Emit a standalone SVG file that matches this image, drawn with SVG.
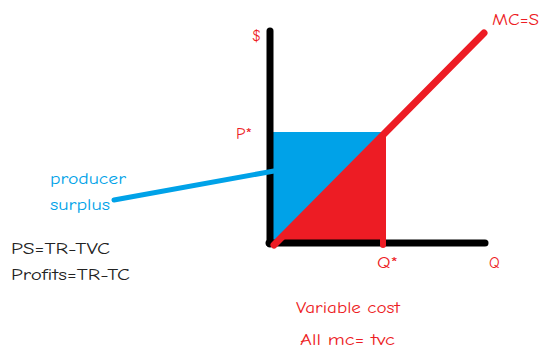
<svg xmlns="http://www.w3.org/2000/svg" width="542" height="350" viewBox="0 0 542 350">
<style>
.t{font-family:"Comic Neue","DejaVu Sans","Liberation Sans",sans-serif;font-size:15px}
.r{fill:#ED1C24}
.b{fill:#00A2E8}
.k{fill:#222}
</style>
<rect width="542" height="350" fill="#fff"/>
<g id="areas">
<rect x="273" y="133" width="108" height="110" fill="#00A2E8"/>
<polygon points="273,243 382,136 385,136 385,240 273,240" fill="#ED1C24"/>
<line x1="272" y1="134.5" x2="382" y2="134.5" stroke="#00A2E8" stroke-width="5" stroke-linecap="round"/>
</g>
<g id="axes" stroke="#000" stroke-width="7" stroke-linecap="round" fill="none">
<line x1="270" y1="31" x2="270" y2="244"/>
<line x1="269" y1="243" x2="485" y2="243"/>
</g>
<g id="curves" fill="none" stroke-linecap="round">
<line x1="383" y1="137" x2="383" y2="245" stroke="#ED1C24" stroke-width="6"/>
<line x1="274" y1="245" x2="484" y2="33" stroke="#ED1C24" stroke-width="7"/>
<line x1="114" y1="200" x2="274" y2="171" stroke="#00A2E8" stroke-width="5"/>
</g>
<g id="labels">
<text class="t r" x="492" y="25" textLength="47" lengthAdjust="spacingAndGlyphs">MC=S</text>
<text class="t r" x="252" y="41">$</text>
<text class="t r" x="236" y="139" textLength="16" lengthAdjust="spacingAndGlyphs">P*</text>
<text class="t r" x="377" y="268" textLength="21" lengthAdjust="spacingAndGlyphs">Q*</text>
<text class="t r" x="489" y="268">Q</text>
<text class="t b" x="50" y="184" textLength="76" lengthAdjust="spacingAndGlyphs">producer</text>
<text class="t b" x="50" y="210" textLength="60" lengthAdjust="spacingAndGlyphs">surplus</text>
<text class="t k" x="11" y="254" textLength="99" lengthAdjust="spacingAndGlyphs">PS=TR-TVC</text>
<text class="t k" x="11" y="280" textLength="119" lengthAdjust="spacingAndGlyphs">Profits=TR-TC</text>
<text class="t r" x="296" y="313" textLength="104" lengthAdjust="spacingAndGlyphs">Variable cost</text>
<text class="t r" x="300" y="345" textLength="95" lengthAdjust="spacingAndGlyphs">All mc= tvc</text>
</g>
</svg>
